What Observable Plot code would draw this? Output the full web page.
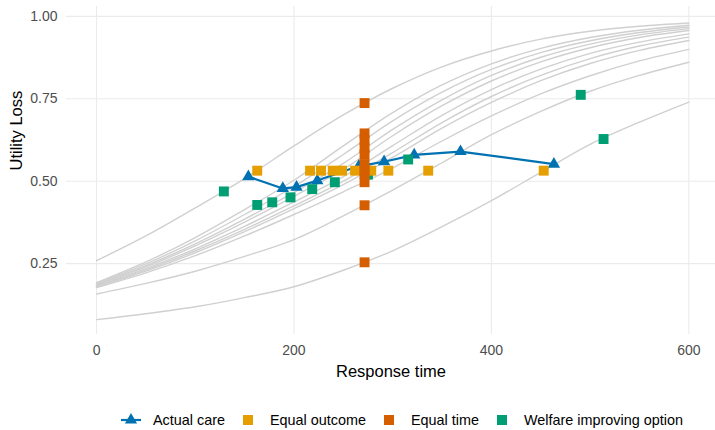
<!DOCTYPE html>
<html><head><meta charset="utf-8">
<script src="https://cdn.jsdelivr.net/npm/d3@7"></script>
<script src="https://cdn.jsdelivr.net/npm/@observablehq/plot@0.6"></script>
<style>
body{margin:0;background:#fff;font-family:"Liberation Sans",Arial,sans-serif;}
#wrap{position:relative;width:715px;height:430px;overflow:hidden;}
#legend{position:absolute;left:121px;top:410px;height:20px;display:flex;align-items:center;font-size:14.4px;color:#000;white-space:nowrap;}
.item{display:flex;align-items:center;margin-right:13px;}
.key{width:20px;height:20px;display:flex;align-items:center;justify-content:center;}
.lab{margin-left:12px;}
</style></head><body>
<div id="wrap"><div id="chart"></div><div id="legend"></div></div>
<script>
// Response time grid at which the grey curves were read
const responseTime = [0, 50, 100, 150, 200, 250, 300, 350, 400, 450, 500, 550, 600];
// Grey utility-loss curves (one per option), top to bottom
const curve01 = [0.259, 0.334, 0.419, 0.508, 0.607, 0.701, 0.782, 0.847, 0.895, 0.931, 0.955, 0.970, 0.980];
const curve02 = [0.192, 0.255, 0.329, 0.414, 0.503, 0.607, 0.708, 0.792, 0.856, 0.903, 0.936, 0.958, 0.973];
const curve03 = [0.190, 0.249, 0.319, 0.399, 0.484, 0.581, 0.683, 0.770, 0.839, 0.890, 0.926, 0.951, 0.968];
const curve04 = [0.188, 0.244, 0.310, 0.385, 0.466, 0.554, 0.657, 0.747, 0.821, 0.876, 0.916, 0.944, 0.963];
const curve05 = [0.186, 0.240, 0.304, 0.376, 0.454, 0.536, 0.638, 0.729, 0.804, 0.862, 0.905, 0.936, 0.957];
const curve06 = [0.184, 0.235, 0.295, 0.363, 0.437, 0.514, 0.608, 0.700, 0.778, 0.840, 0.888, 0.922, 0.947];
const curve07 = [0.182, 0.231, 0.289, 0.354, 0.425, 0.500, 0.587, 0.678, 0.757, 0.821, 0.872, 0.910, 0.937];
const curve08 = [0.179, 0.227, 0.283, 0.347, 0.417, 0.490, 0.572, 0.661, 0.739, 0.805, 0.857, 0.897, 0.927];
const curve09 = [0.177, 0.222, 0.274, 0.334, 0.399, 0.468, 0.540, 0.622, 0.698, 0.765, 0.820, 0.865, 0.900];
const curve10 = [0.158, 0.190, 0.227, 0.272, 0.323, 0.395, 0.473, 0.556, 0.641, 0.712, 0.773, 0.821, 0.861];
const curve11 = [0.080, 0.098, 0.119, 0.147, 0.180, 0.230, 0.289, 0.362, 0.441, 0.527, 0.612, 0.679, 0.740];

// Actual care
const actualCareX = [153.8, 188.7, 202.6, 223.6, 265.7, 291.3, 321.8, 368.7, 463.3];
const actualCareY = [0.514, 0.478, 0.482, 0.502, 0.546, 0.559, 0.580, 0.590, 0.552];
// Equal outcome
const equalOutcomeX = [162.8, 216.3, 227.4, 239.3, 248.7, 261.9, 271.5, 278.3, 295.6, 336.0, 453.0];
const equalOutcomeY = [0.532, 0.532, 0.532, 0.532, 0.532, 0.532, 0.532, 0.532, 0.532, 0.532, 0.532];
// Equal time
const equalTimeX = [271.5, 271.5, 271.5, 271.5, 271.5, 271.5, 271.5, 271.5, 271.5, 271.5, 271.5];
const equalTimeY = [0.737, 0.645, 0.624, 0.600, 0.581, 0.552, 0.532, 0.521, 0.497, 0.427, 0.254];
// Welfare improving option
const welfareX = [129.0, 162.8, 178.0, 196.5, 218.5, 241.4, 275.0, 315.7, 490.5, 513.6];
const welfareY = [0.469, 0.428, 0.436, 0.451, 0.476, 0.497, 0.520, 0.566, 0.762, 0.628];

const seriesNames = ["Actual care", "Equal outcome", "Equal time", "Welfare improving option"];
const seriesColors = ["#0072B2", "#E69F00", "#D55E00", "#009E73"];
const xTicks = [0, 200, 400, 600];
const yTicks = [0.25, 0.50, 0.75, 1.00];
const xTitle = "Response time";
const yTitle = "Utility Loss";

const curves = [curve01, curve02, curve03, curve04, curve05, curve06, curve07, curve08, curve09, curve10, curve11];
const curveRows = curves.flatMap((c, i) => c.map((v, j) => ({curve: i, x: responseTime[j], y: v})));
const pts = (xs, ys) => xs.map((x, i) => ({x, y: ys[i]}));
const actual = pts(actualCareX, actualCareY);
const outcome = pts(equalOutcomeX, equalOutcomeY);
const etime = pts(equalTimeX, equalTimeY);
const welfare = pts(welfareX, welfareY);

const chart = Plot.plot({
  width: 715, height: 390,
  marginLeft: 66, marginRight: 0, marginTop: 6, marginBottom: 56,
  style: {fontFamily: '"Liberation Sans", Arial, sans-serif', background: "#fff"},
  x: {domain: [-30, 627], range: [66.4, 715]},
  y: {domain: [0.035, 1.03], range: [334, 6]},
  marks: [
    Plot.gridY(yTicks, {stroke: "#EBEBEB", strokeOpacity: 1, strokeWidth: 1.1}),
    Plot.gridX(xTicks, {stroke: "#EBEBEB", strokeOpacity: 1, strokeWidth: 1.1}),
    Plot.axisX(xTicks, {tickSize: 0, tickPadding: 11, fontSize: 14, color: "#4D4D4D", label: null}),
    Plot.axisY(yTicks, {tickSize: 0, tickPadding: 9, fontSize: 14, color: "#4D4D4D", label: null, tickFormat: d => d.toFixed(2)}),
    Plot.text([xTitle], {frameAnchor: "bottom", dy: 37, lineAnchor: "middle", fontSize: 16.5, fill: "#000"}),
    Plot.text([yTitle], {frameAnchor: "left", dx: -50, rotate: -90, lineAnchor: "middle", fontSize: 16.5, fill: "#000"}),
    Plot.line(curveRows, {x: "x", y: "y", z: "curve", stroke: "#D0D0D0", strokeWidth: 1.4, curve: "catmull-rom"}),
    Plot.line(actual, {x: "x", y: "y", stroke: seriesColors[0], strokeWidth: 2.2}),
    Plot.dot(actual, {x: "x", y: "y", symbol: "triangle", r: 4.6, fill: seriesColors[0]}),
    Plot.dot(welfare, {x: "x", y: "y", symbol: "square", r: 5.6, fill: seriesColors[3]}),
    Plot.dot(outcome, {x: "x", y: "y", symbol: "square", r: 5.6, fill: seriesColors[1]}),
    Plot.dot(etime, {x: "x", y: "y", symbol: "square", r: 5.6, fill: seriesColors[2]})
  ]
});
document.getElementById("chart").appendChild(chart);

const legend = document.getElementById("legend");
seriesNames.forEach((name, i) => {
  const item = document.createElement("div");
  item.className = "item";
  const key = document.createElement("div");
  key.className = "key";
  if (i === 0) {
    key.innerHTML = `<svg width="20" height="20"><line x1="0" y1="10" x2="20" y2="10" stroke="${seriesColors[0]}" stroke-width="2.2"/><path d="${d3.symbol(d3.symbolTriangle, 64)()}" transform="translate(10,10)" fill="${seriesColors[0]}"/></svg>`;
  } else {
    key.innerHTML = `<svg width="20" height="20"><rect x="5" y="5" width="10" height="10" fill="${seriesColors[i]}"/></svg>`;
  }
  const lab = document.createElement("span");
  lab.className = "lab";
  lab.textContent = name;
  item.appendChild(key); item.appendChild(lab);
  legend.appendChild(item);
});
</script>
</body></html>
